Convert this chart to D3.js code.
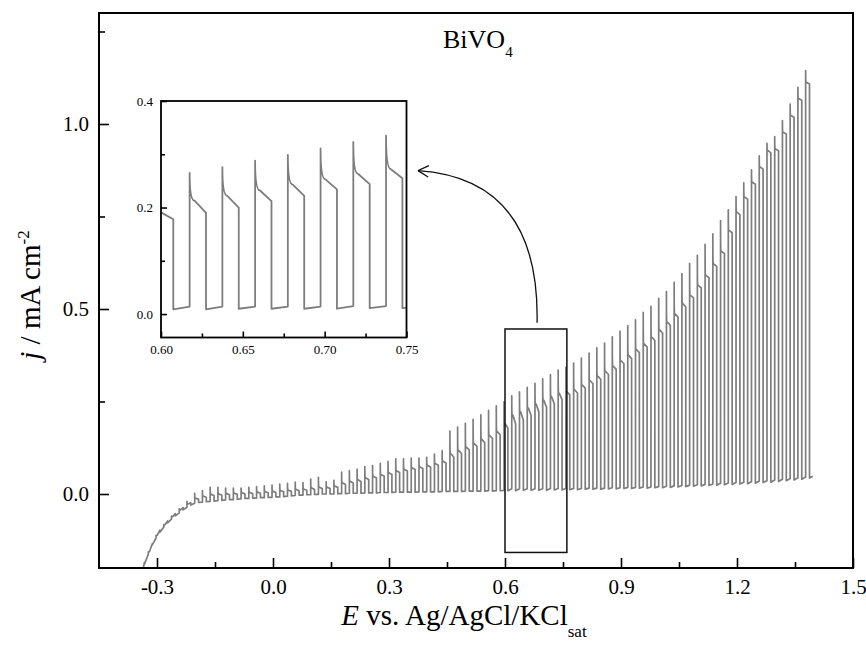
<!DOCTYPE html>
<html>
<head>
<meta charset="utf-8">
<script src="https://cdnjs.cloudflare.com/ajax/libs/d3/7.8.5/d3.min.js"></script>
<style>
    body { margin: 0; background: #fff; }
    svg text { font-family: "Liberation Serif", "Times New Roman", serif; }
</style>
</head>
<body>
<svg id="chart" width="866" height="648"></svg>
<script>
// chopped light LSV, light switched on at these potentials (V)
const chopOn = [
    -0.3425, -0.3225, -0.3025, -0.2825, -0.2625, -0.2425, -0.2225, -0.2025, -0.1825, -0.1625,
    -0.1425, -0.1225, -0.1025, -0.0825, -0.0625, -0.0425, -0.0225, -0.0025, 0.0175, 0.0375,
    0.0575, 0.0775, 0.0975, 0.1175, 0.1375, 0.1575, 0.1775, 0.1975, 0.2175, 0.2375,
    0.2575, 0.2775, 0.2975, 0.3175, 0.3375, 0.3575, 0.3775, 0.3975, 0.4175, 0.4375,
    0.4575, 0.4775, 0.4975, 0.5175, 0.5375, 0.5575, 0.5775, 0.5975, 0.6175, 0.6375,
    0.6575, 0.6775, 0.6975, 0.7175, 0.7375, 0.7575, 0.7775, 0.7975, 0.8175, 0.8375,
    0.8575, 0.8775, 0.8975, 0.9175, 0.9375, 0.9575, 0.9775, 0.9975, 1.0175, 1.0375,
    1.0575, 1.0775, 1.0975, 1.1175, 1.1375, 1.1575, 1.1775, 1.1975, 1.2175, 1.2375,
    1.2575, 1.2775, 1.2975, 1.3175, 1.3375, 1.3575, 1.3775
];
// dark current just before light on (mA cm-2)
const darkJ = [
    -0.230, -0.163, -0.119, -0.090, -0.068, -0.051, -0.036, -0.025, -0.022, -0.020,
    -0.018, -0.016, -0.015, -0.013, -0.012, -0.011, -0.010, -0.009, -0.008, -0.006,
    -0.004, -0.003, -0.002, -0.001, 0.000, 0.000, 0.001, 0.002, 0.002, 0.003,
    0.003, 0.004, 0.004, 0.005, 0.005, 0.005, 0.006, 0.006, 0.006, 0.007,
    0.007, 0.007, 0.008, 0.008, 0.008, 0.009, 0.009, 0.010, 0.014, 0.014,
    0.014, 0.014, 0.014, 0.015, 0.015, 0.015, 0.015, 0.015, 0.016, 0.016,
    0.016, 0.017, 0.017, 0.018, 0.018, 0.019, 0.019, 0.020, 0.021, 0.022,
    0.023, 0.024, 0.025, 0.026, 0.027, 0.029, 0.030, 0.031, 0.032, 0.033,
    0.035, 0.036, 0.038, 0.040, 0.042, 0.044, 0.046
];
// transient spike when light goes on
const peakJ = [
    -0.225, -0.157, -0.112, -0.083, -0.060, -0.040, -0.020, 0.002, 0.009, 0.018,
    0.018, 0.016, 0.016, 0.016, 0.018, 0.020, 0.022, 0.024, 0.027, 0.029,
    0.032, 0.031, 0.040, 0.045, 0.033, 0.037, 0.059, 0.063, 0.067, 0.074,
    0.077, 0.083, 0.088, 0.095, 0.095, 0.097, 0.097, 0.099, 0.108, 0.117,
    0.170, 0.181, 0.191, 0.202, 0.214, 0.226, 0.238, 0.249, 0.265, 0.276,
    0.288, 0.299, 0.311, 0.323, 0.335, 0.342, 0.354, 0.367, 0.381, 0.395,
    0.408, 0.425, 0.440, 0.455, 0.471, 0.491, 0.507, 0.529, 0.547, 0.572,
    0.596, 0.623, 0.645, 0.675, 0.703, 0.739, 0.768, 0.804, 0.841, 0.876,
    0.914, 0.948, 0.966, 1.009, 1.054, 1.099, 1.144
];
// photocurrent after the spike has decayed
const kneeJ = [
    -0.222, -0.156, -0.112, -0.083, -0.061, -0.043, -0.027, -0.012, -0.006, -0.001,
    0.000, 0.001, 0.002, 0.003, 0.004, 0.005, 0.006, 0.007, 0.009, 0.010,
    0.012, 0.013, 0.016, 0.018, 0.018, 0.021, 0.030, 0.034, 0.038, 0.043,
    0.047, 0.052, 0.057, 0.062, 0.066, 0.070, 0.073, 0.077, 0.082, 0.088,
    0.108, 0.117, 0.126, 0.136, 0.147, 0.158, 0.168, 0.190, 0.213, 0.222,
    0.232, 0.243, 0.253, 0.263, 0.272, 0.276, 0.281, 0.294, 0.306, 0.318,
    0.331, 0.345, 0.360, 0.374, 0.390, 0.405, 0.423, 0.443, 0.464, 0.486,
    0.514, 0.536, 0.563, 0.590, 0.621, 0.655, 0.712, 0.761, 0.802, 0.842,
    0.883, 0.928, 0.932, 0.977, 1.022, 1.068, 1.112
];
// photocurrent just before light off
const endJ = [
    -0.185, -0.135, -0.098, -0.073, -0.053, -0.037, -0.024, -0.014, -0.009, -0.004,
    -0.003, -0.002, -0.001, 0.000, 0.001, 0.002, 0.003, 0.004, 0.006, 0.007,
    0.009, 0.010, 0.012, 0.014, 0.015, 0.018, 0.026, 0.030, 0.034, 0.039,
    0.043, 0.048, 0.053, 0.058, 0.062, 0.066, 0.069, 0.073, 0.078, 0.084,
    0.100, 0.110, 0.119, 0.129, 0.139, 0.150, 0.160, 0.178, 0.190, 0.200,
    0.212, 0.222, 0.234, 0.244, 0.255, 0.268, 0.273, 0.286, 0.298, 0.310,
    0.323, 0.337, 0.352, 0.366, 0.382, 0.397, 0.415, 0.435, 0.456, 0.478,
    0.506, 0.530, 0.557, 0.584, 0.615, 0.650, 0.706, 0.755, 0.797, 0.837,
    0.878, 0.922, 0.928, 0.973, 1.018, 1.064, 1.108
];
// dark current right after light off
const offJ = [
    -0.190, -0.138, -0.103, -0.078, -0.059, -0.043, -0.030, -0.023, -0.021, -0.019,
    -0.017, -0.015, -0.014, -0.012, -0.011, -0.010, -0.009, -0.008, -0.007, -0.005,
    -0.003, -0.002, -0.001, 0.000, 0.000, 0.001, 0.001, 0.002, 0.002, 0.003,
    0.003, 0.004, 0.004, 0.005, 0.005, 0.005, 0.006, 0.006, 0.006, 0.007,
    0.007, 0.007, 0.008, 0.008, 0.008, 0.008, 0.009, 0.009, 0.009, 0.010,
    0.010, 0.010, 0.010, 0.011, 0.011, 0.012, 0.012, 0.013, 0.013, 0.013,
    0.014, 0.014, 0.015, 0.015, 0.016, 0.016, 0.017, 0.017, 0.018, 0.019,
    0.020, 0.021, 0.022, 0.023, 0.024, 0.025, 0.026, 0.027, 0.028, 0.029,
    0.031, 0.032, 0.034, 0.036, 0.038, 0.040, 0.043
];
const lightTime = 0.01;   // V the light stays on
const decayTime = 0.003;  // V for the spike to decay
const tailE = 1.396;
const tailJ = 0.048;

// axes
const xDomain = [-0.45, 1.5];
const yDomain = [-0.2, 1.3];
const xTicks = [-0.3, 0, 0.3, 0.6, 0.9, 1.2, 1.5];
const xTickLabels = ["-0.3", "0.0", "0.3", "0.6", "0.9", "1.2", "1.5"];
const xMinor = [-0.15, 0.15, 0.45, 0.75, 1.05, 1.35];
const yTicks = [0, 0.5, 1.0];
const yTickLabels = ["0.0", "0.5", "1.0"];
const yMinor = [0.25, 0.75, 1.25];

// inset
const insetXDomain = [0.60, 0.75];
const insetYDomain = [-0.044, 0.4];
const insetXTicks = [0.60, 0.65, 0.70, 0.75];
const insetXLabels = ["0.60", "0.65", "0.70", "0.75"];
const insetXMinor = [0.625, 0.675, 0.725];
const insetYTicks = [0, 0.2, 0.4];
const insetYLabels = ["0.0", "0.2", "0.4"];
const insetYMinor = [0.1, 0.3];

// zoom box and arrow, in data units of the main plot
const zoomBoxE = [0.60, 0.76];
const zoomBoxJ = [-0.158, 0.446];
const arrowFrom = [0.683, 0.463];
const arrowBend = [0.69, 0.852];
const arrowTo = [0.375, 0.874];

const svg = d3.select("#chart");
svg.append("rect").attr("width", 866).attr("height", 648).attr("fill", "#fff");

const box = { left: 99, right: 853, top: 13, bottom: 568 };
const x = d3.scaleLinear().domain(xDomain).range([box.left, box.right]);
const y = d3.scaleLinear().domain(yDomain).range([box.bottom, box.top]);

// build the chopped curve as one path
function chopPath(sx, sy) {
    const p = d3.path();
    p.moveTo(sx(chopOn[0]), sy(darkJ[0]));
    for (let i = 0; i < chopOn.length; i++) {
        const on = chopOn[i];
        const off = on + lightTime;
        p.lineTo(sx(on), sy(peakJ[i]));
        p.quadraticCurveTo(sx(on), sy(kneeJ[i]), sx(on + decayTime), sy(kneeJ[i]));
        p.lineTo(sx(off), sy(endJ[i]));
        p.lineTo(sx(off), sy(offJ[i]));
        if (i + 1 < chopOn.length) p.lineTo(sx(chopOn[i + 1]), sy(darkJ[i + 1]));
        else p.lineTo(sx(tailE), sy(tailJ));
    }
    return p.toString();
}

function styleAxis(g, size) {
    g.select(".domain").remove();
    g.selectAll(".tick line").attr("stroke", "#000").attr("stroke-width", 1.8);
    g.selectAll(".tick text").attr("fill", "#000").style("font-size", size + "px");
}

// main curve
svg.append("clipPath").attr("id", "mainclip")
    .append("rect")
    .attr("x", box.left).attr("y", box.top)
    .attr("width", box.right - box.left).attr("height", box.bottom - box.top);

svg.append("path")
    .attr("d", chopPath(x, y))
    .attr("clip-path", "url(#mainclip)")
    .attr("fill", "none")
    .attr("stroke", "#7d7d7d")
    .attr("stroke-width", 1.7)
    .attr("stroke-linejoin", "round");

// main axes
svg.append("g")
    .attr("transform", "translate(0," + box.bottom + ")")
    .call(d3.axisBottom(x).tickValues(xTicks).tickSize(-10).tickPadding(11)
        .tickFormat(d => xTickLabels[xTicks.indexOf(d)]))
    .call(g => styleAxis(g, 21));
svg.append("g")
    .attr("transform", "translate(0," + box.bottom + ")")
    .call(d3.axisBottom(x).tickValues(xMinor).tickSize(-6).tickFormat(""))
    .call(g => styleAxis(g, 21));
svg.append("g")
    .attr("transform", "translate(" + box.left + ",0)")
    .call(d3.axisLeft(y).tickValues(yTicks).tickSize(-10).tickPadding(10)
        .tickFormat(d => yTickLabels[yTicks.indexOf(d)]))
    .call(g => styleAxis(g, 21));
svg.append("g")
    .attr("transform", "translate(" + box.left + ",0)")
    .call(d3.axisLeft(y).tickValues(yMinor).tickSize(-6).tickFormat(""))
    .call(g => styleAxis(g, 21));

svg.append("rect")
    .attr("x", box.left).attr("y", box.top)
    .attr("width", box.right - box.left).attr("height", box.bottom - box.top)
    .attr("fill", "none").attr("stroke", "#000").attr("stroke-width", 2);

// zoom box
svg.append("rect")
    .attr("x", x(zoomBoxE[0])).attr("y", y(zoomBoxJ[1]))
    .attr("width", x(zoomBoxE[1]) - x(zoomBoxE[0]))
    .attr("height", y(zoomBoxJ[0]) - y(zoomBoxJ[1]))
    .attr("fill", "none").attr("stroke", "#111").attr("stroke-width", 1.5);

// curved arrow to the inset
const ap = d3.path();
ap.moveTo(x(arrowFrom[0]), y(arrowFrom[1]));
ap.quadraticCurveTo(x(arrowBend[0]), y(arrowBend[1]), x(arrowTo[0]), y(arrowTo[1]));
svg.append("path").attr("d", ap.toString())
    .attr("fill", "none").attr("stroke", "#111").attr("stroke-width", 1.3);

const tipX = x(arrowTo[0]), tipY = y(arrowTo[1]);
const ang = Math.atan2(tipY - y(arrowBend[1]), tipX - x(arrowBend[0]));
const head = d3.path();
[-0.5, 0.5].forEach(a => {
    head.moveTo(tipX, tipY);
    head.lineTo(tipX - 12 * Math.cos(ang + a), tipY - 12 * Math.sin(ang + a));
});
svg.append("path").attr("d", head.toString())
    .attr("fill", "none").attr("stroke", "#111").attr("stroke-width", 1.3);

// inset
const ib = { left: 161, right: 406.5, top: 101, bottom: 337.5 };
const ix = d3.scaleLinear().domain(insetXDomain).range([ib.left, ib.right]);
const iy = d3.scaleLinear().domain(insetYDomain).range([ib.bottom, ib.top]);

svg.append("rect")
    .attr("x", ib.left).attr("y", ib.top)
    .attr("width", ib.right - ib.left).attr("height", ib.bottom - ib.top)
    .attr("fill", "#fff");

svg.append("clipPath").attr("id", "insetclip")
    .append("rect")
    .attr("x", ib.left).attr("y", ib.top)
    .attr("width", ib.right - ib.left).attr("height", ib.bottom - ib.top);

svg.append("path")
    .attr("d", chopPath(ix, iy))
    .attr("clip-path", "url(#insetclip)")
    .attr("fill", "none")
    .attr("stroke", "#7d7d7d")
    .attr("stroke-width", 1.8)
    .attr("stroke-linejoin", "round");

svg.append("g")
    .attr("transform", "translate(0," + ib.bottom + ")")
    .call(d3.axisBottom(ix).tickValues(insetXTicks).tickSize(-6).tickPadding(7)
        .tickFormat(d => insetXLabels[insetXTicks.indexOf(d)]))
    .call(g => styleAxis(g, 13));
svg.append("g")
    .attr("transform", "translate(0," + ib.bottom + ")")
    .call(d3.axisBottom(ix).tickValues(insetXMinor).tickSize(-4).tickFormat(""))
    .call(g => styleAxis(g, 13));
svg.append("g")
    .attr("transform", "translate(" + ib.left + ",0)")
    .call(d3.axisLeft(iy).tickValues(insetYTicks).tickSize(-6).tickPadding(8)
        .tickFormat(d => insetYLabels[insetYTicks.indexOf(d)]))
    .call(g => styleAxis(g, 13));
svg.append("g")
    .attr("transform", "translate(" + ib.left + ",0)")
    .call(d3.axisLeft(iy).tickValues(insetYMinor).tickSize(-4).tickFormat(""))
    .call(g => styleAxis(g, 13));

svg.selectAll("g .tick line").attr("stroke-width", 1.6);

svg.append("rect")
    .attr("x", ib.left).attr("y", ib.top)
    .attr("width", ib.right - ib.left).attr("height", ib.bottom - ib.top)
    .attr("fill", "none").attr("stroke", "#000").attr("stroke-width", 1.8);

// labels
const title = svg.append("text")
    .attr("x", 443).attr("y", 48)
    .style("font-size", "26px").attr("fill", "#000");
title.append("tspan").text("BiVO");
title.append("tspan").attr("dy", 9).style("font-size", "15px").text("4");

const xlab = svg.append("text")
    .attr("x", 464).attr("y", 625)
    .attr("text-anchor", "middle")
    .style("font-size", "29px").attr("fill", "#000");
xlab.append("tspan").style("font-style", "italic").text("E");
xlab.append("tspan").text(" vs. Ag/AgCl/KCl");
xlab.append("tspan").attr("dy", 12).style("font-size", "17px").text("sat");

const ylab = svg.append("text")
    .attr("transform", "translate(40,295) rotate(-90)")
    .attr("text-anchor", "middle")
    .style("font-size", "29px").attr("fill", "#000");
ylab.append("tspan").style("font-style", "italic").text("j");
ylab.append("tspan").text(" / mA cm");
ylab.append("tspan").attr("dy", -11).style("font-size", "17px").text("-2");
</script>
</body>
</html>
